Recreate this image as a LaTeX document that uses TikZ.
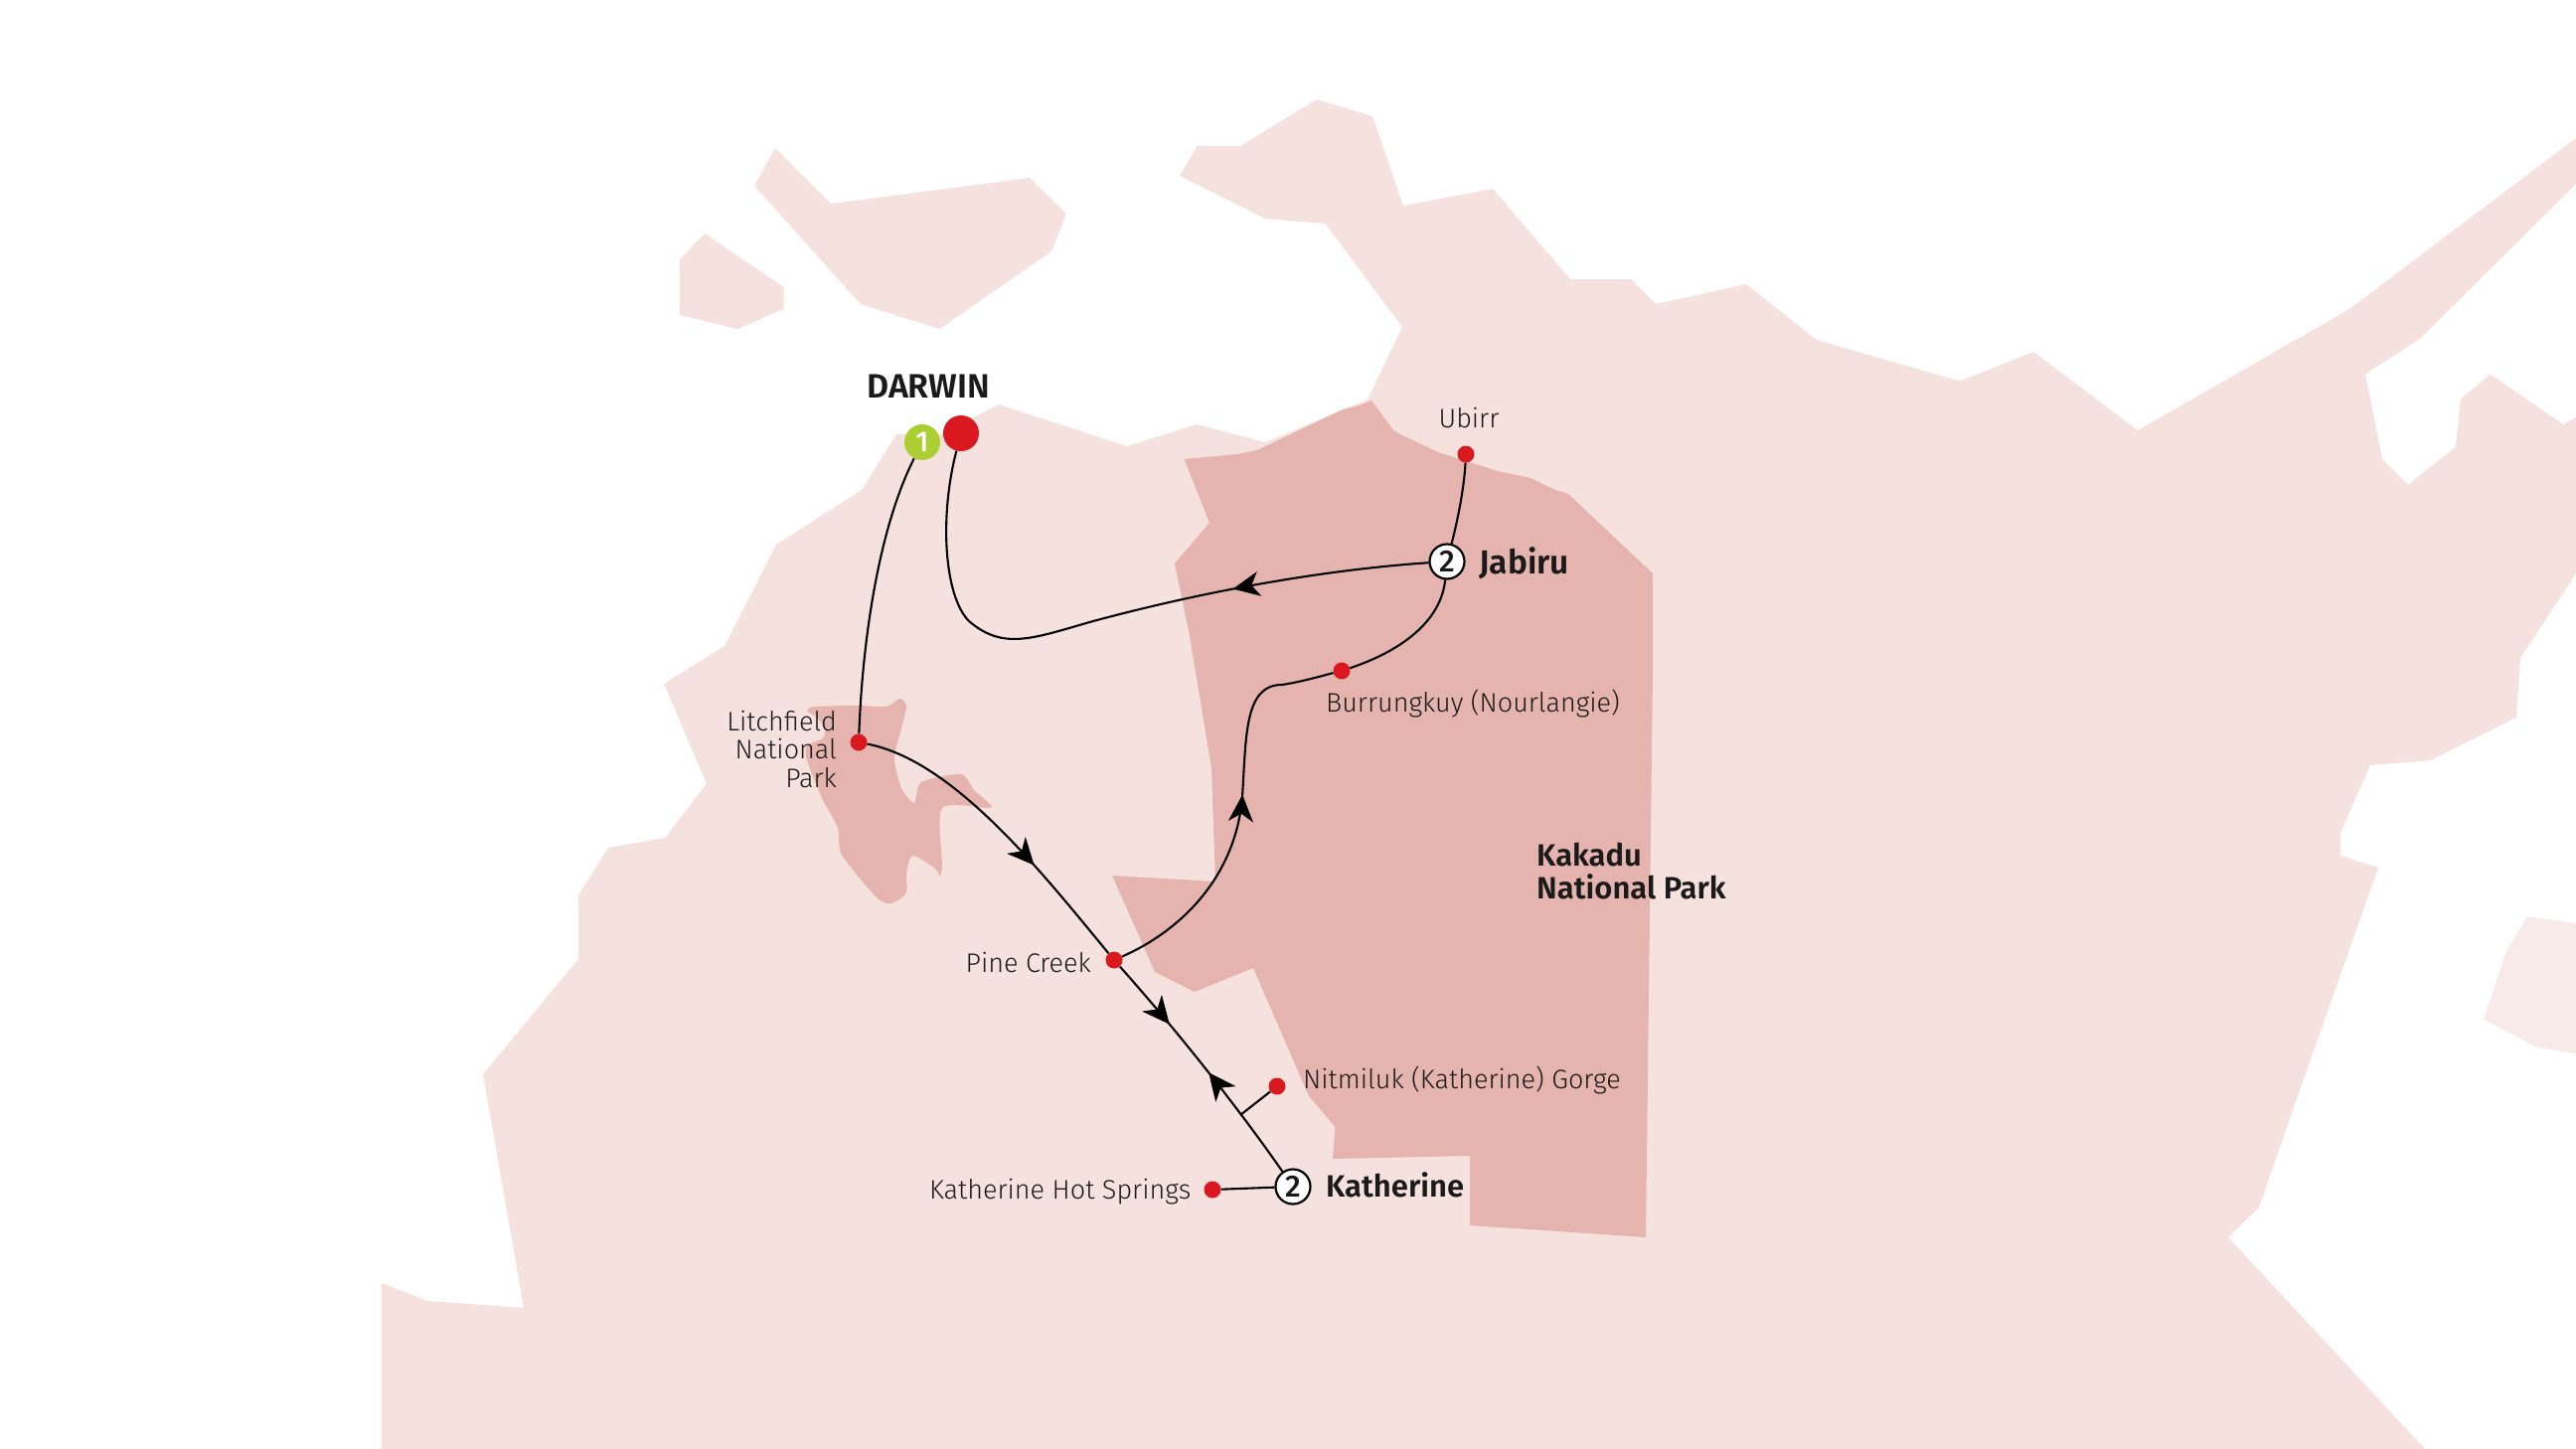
\documentclass[tikz,border=0pt]{standalone}
\usepackage{fontspec}
\setmainfont{Fira Sans}[UprightFont=* Light,BoldFont=* SemiBold]
\newfontfamily\numfont{Fira Sans}[UprightFont=* Medium]
\usetikzlibrary{arrows.meta,decorations.markings}
\definecolor{land}{HTML}{F5E2DF}
\definecolor{isle}{HTML}{F7EAE8}
\definecolor{park}{HTML}{E6B4AE}
\definecolor{dotred}{HTML}{D9181F}
\definecolor{startgreen}{HTML}{ABCF32}
\definecolor{ink}{HTML}{1A1A1A}
\tikzset{
  x=1pt,y=-1pt,
  route/.style={draw=black,line width=2.1pt},
  stop/.style={circle,fill=dotred,inner sep=0pt,minimum size=17pt},
  stay/.style={circle,draw=black,fill=white,line width=2.2pt,inner sep=0pt,minimum size=35pt,font=\numfont\fontsize{31}{31}\selectfont,text=ink},
  place/.style={inner sep=0pt,text=ink,font=\fontsize{27}{28.5}\selectfont},
  town/.style={inner sep=0pt,text=ink,font=\fontsize{31}{33}\selectfont\bfseries},
  fwd/.style={postaction={decorate},decoration={markings,mark=at position #1 with {\arrow{Stealth[length=27pt,width=25pt,inset=8pt]}}}},
  bwd/.style={postaction={decorate},decoration={markings,mark=at position #1 with {\arrowreversed{Stealth[length=27pt,width=25pt,inset=8pt]}}}},
}
\begin{document}
\begin{tikzpicture}
\useasboundingbox (0,0) rectangle (2592,1458);
% islands
\fill[land] (759,187)--(780,149)--(836,205)--(1036,179)--(1073,215)--(1058,253)--(945.5,331)--(866,306)--cycle;
\fill[land] (684,261)--(709,235)--(788.5,289)--(788.5,311)--(742,331)--(684,317)--cycle;
\fill[isle] (2543,922)--(2522,957)--(2499,1025.5)--(2553,1054)--(2592,1060)--(2592,929)--cycle;
% mainland
\fill[land] (383.5,1458)--(383.5,1291)--(431,1309)--(527,1316)--(486,1081)--(582,965)--(582,901)--(612,853)--(669,843)--(711,788.5)--(668,688)--(729,650)--(781,548)--(867,493)--(902,437)--(947,437)--(1005,407)--(1134,449)--(1204.5,427)--(1273,445)--(1376,402)--(1411,329)--(1333.5,225)--(1273,220)--(1187,177)--(1204.5,147)--(1248,147)--(1325,100)--(1381,117)--(1412,207)--(1502,190)--(1580,281)--(1641.5,281)--(1666,306)--(1757,286)--(1828,342)--(1972,383.5)--(2046,354)--(2151,433)--(2364,311)--(2592,139)--(2592,185)--(2436,340)--(2380,376.5)--(2397,462)--(2423,488)--(2471,449.5)--(2476,401.5)--(2506,376.5)--(2579,427)--(2592,420)--(2592,577)--(2536,662)--(2532,722)--(2446,765)--(2385,770)--(2355,838)--(2355,861)--(2393,873)--(2313,1100)--(2273,1215)--(2242,1245)--(2440,1458)--cycle;
% Kakadu
\fill[park] (1191.5,462)--(1245,457)--(1265,453)--(1351,412)--(1368,408)--(1380,403)--(1403,434)--(1447,455)--(1507,474)--(1540,481)--(1565,493)--(1578,497)--(1663,577)--(1663,680)--(1656,1245)--(1479,1233)--(1479,1163)--(1341,1166)--(1343.5,1134)--(1317,1103)--(1261,974)--(1202,998)--(1162,978)--(1119,881)--(1223,887)--(1219,773)--(1197,640)--(1182,567)--(1217,526)--cycle;
% Litchfield
\fill[park] plot[smooth cycle,tension=0.45] coordinates {(812,715)(820,711)(863,710)(892,711)(905,703)(912,710)(907,733)(900,763)(907,793)(920,808)(927,787)(967,779)(980,795)(995,808)(995,813)(948,813)(948,870)(946,881)(940,873)(918,861)(912,880)(912,898)(897,909)(882,903)(847,860)(843,833)(827,803)(812,765)(811,752)(818,747)(828,743)(830,733)(822,722)};
% stops
\node[stop,minimum size=36pt] (darwin) at (967,436) {};
\node[circle,fill=startgreen,inner sep=0pt,minimum size=36pt,text=white,font=\fontsize{29}{29}\selectfont] (start) at (928,445) {\textnormal{\numfont 1}};
\node[stop] (litch) at (864,747) {};
\node[stop] (pine) at (1121,966) {};
\node[stop] (ubirr) at (1475,457) {};
\node[stop] (burr) at (1350,675) {};
\node[stop] (nit) at (1285,1093) {};
\node[stop] (hot) at (1220,1197) {};
\node[stay] (jabiru) at (1456,565) {2};
\node[stay] (kath) at (1301,1194) {2};
\coordinate (fork) at (1248,1122);
% routes
\draw[route] (start) .. controls (885,530) and (868,640) .. (litch);
\draw[route,fwd=0.645] (litch) .. controls (960,765) and (1050,880) .. (pine);
\draw[route,fwd=0.29,bwd=0.53] (pine) .. controls (1186,1039) and (1246,1115) .. (kath);
\draw[route] (nit) -- (fork);
\draw[route] (hot) -- (kath);
\draw[route,fwd=0.54] (pine) .. controls (1185,938) and (1243,885) .. (1250,802) .. controls (1254,740) and (1252,689) .. (1290,689) .. controls (1310,686) and (1330,680) .. (burr);
\draw[route] (burr) .. controls (1410,655) and (1450,625) .. (jabiru);
\draw[route] (jabiru) .. controls (1465,530) and (1473,495) .. (ubirr);
\draw[route,fwd=0.305] (jabiru) .. controls (1350,572) and (1230,590) .. (1100,625) .. controls (1040,642) and (1010,655) .. (975,625) .. controls (950,600) and (945,520) .. (darwin);
% labels
\node[town,anchor=base west,font=\fontsize{34}{34}\selectfont\bfseries] (ldarwin) at (872,400) {DARWIN};
\node[place,anchor=base] (lubirr) at (1478,430) {Ubirr};
\node[town,anchor=base west,font=\fontsize{33.5}{33.5}\selectfont\bfseries] (ljabiru) at (1488,577) {Jabiru};
\node[place,anchor=base west] (lburr) at (1334,716) {Burrungkuy (Nourlangie)};
\node[town,anchor=base west,align=left] (lkak) at (1546,904) {Kakadu\\National Park};
\node[place,anchor=base east,align=right] (llitch) at (842,792) {Litchfield\\National\\Park};
\node[place,anchor=base east] (lpine) at (1098,978) {Pine Creek};
\node[place,anchor=base west] (lnit) at (1311,1095) {Nitmiluk (Katherine) Gorge};
\node[place,anchor=base east] (lhot) at (1198.5,1206) {Katherine Hot Springs};
\node[town,anchor=base west] (lkath) at (1334,1204) {Katherine};
\end{tikzpicture}
\end{document}
